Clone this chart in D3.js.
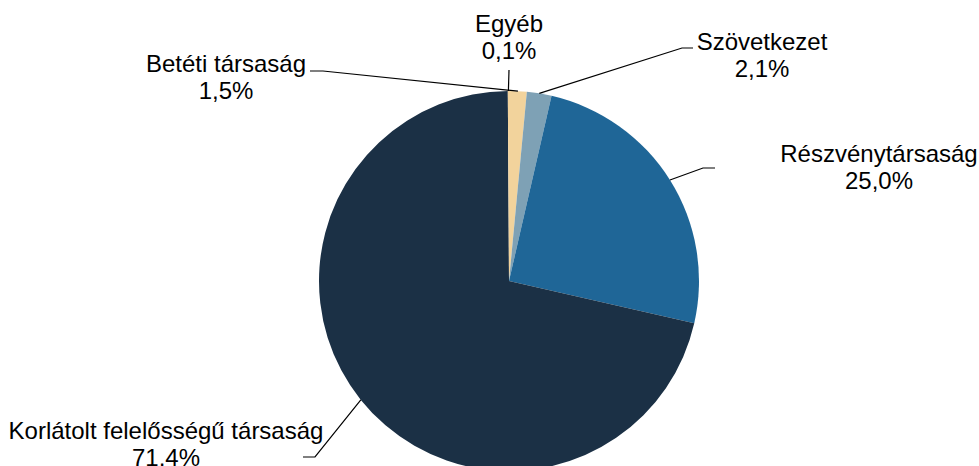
<!DOCTYPE html>
<html>
<head>
<meta charset="utf-8">
<script src="https://cdn.jsdelivr.net/npm/d3@7"></script>
<style>
  html, body { margin: 0; padding: 0; background: #fff; }
  svg { display: block; }
  text { font-family: "Liberation Sans", Arial, sans-serif; font-size: 24px; fill: #000; }
</style>
</head>
<body>
<svg id="chart" width="979" height="466"></svg>
<script>
// Data (clockwise from 12 o'clock)
const categories = ["Betéti társaság", "Szövetkezet", "Részvénytársaság", "Korlátolt felelősségű társaság", "Egyéb"];
const values = [1.5, 2.1, 25.0, 71.4, 0.1];
const valueLabels = ["1,5%", "2,1%", "25,0%", "71,4%", "0,1%"];
const colors = ["#f2d39c", "#7ea1b5", "#1f6697", "#1b3045", "#f2d39c"];

// Layout for labels (text centre x, baselines, leader elbow and end)
const labelLayout = [
  { x: 226, y1: 72, y2: 99, elbow: [323, 71], end: [310, 71] },
  { x: 762, y1: 50, y2: 77, elbow: [682, 48], end: [693, 48] },
  { x: 879, y1: 162, y2: 189, elbow: [703, 168], end: [715, 168] },
  { x: 166, y1: 439, y2: 466, elbow: [315, 457], end: [303, 457] },
  { x: 509, y1: 32, y2: 59, elbow: null, end: [509, 70] }
];

const svg = d3.select("#chart");
const cx = 509, cy = 281, r = 190;
const g = svg.append("g").attr("transform", `translate(${cx},${cy})`);

const pie = d3.pie().sort(null).value(d => d).startAngle(0).endAngle(2 * Math.PI);
const arcs = pie(values);
const arc = d3.arc().innerRadius(0).outerRadius(r);
const edgeArc = d3.arc().innerRadius(r).outerRadius(r);

g.selectAll("path.slice")
  .data(arcs)
  .join("path")
  .attr("class", "slice")
  .attr("d", arc)
  .attr("fill", (d, i) => colors[i]);

// Leader lines
arcs.forEach((d, i) => {
  const L = labelLayout[i];
  const p0 = edgeArc.centroid(d);
  const pts = [[p0[0] + cx, p0[1] + cy]];
  if (L.elbow) pts.push(L.elbow);
  pts.push(L.end);
  svg.append("path")
    .attr("d", d3.line()(pts))
    .attr("fill", "none")
    .attr("stroke", "#000")
    .attr("stroke-width", 1.2);
});

// Labels
categories.forEach((c, i) => {
  const L = labelLayout[i];
  const t = svg.append("text").attr("text-anchor", "middle");
  t.append("tspan").attr("x", L.x).attr("y", L.y1).text(c);
  t.append("tspan").attr("x", L.x).attr("y", L.y2).text(valueLabels[i]);
});
</script>
</body>
</html>
